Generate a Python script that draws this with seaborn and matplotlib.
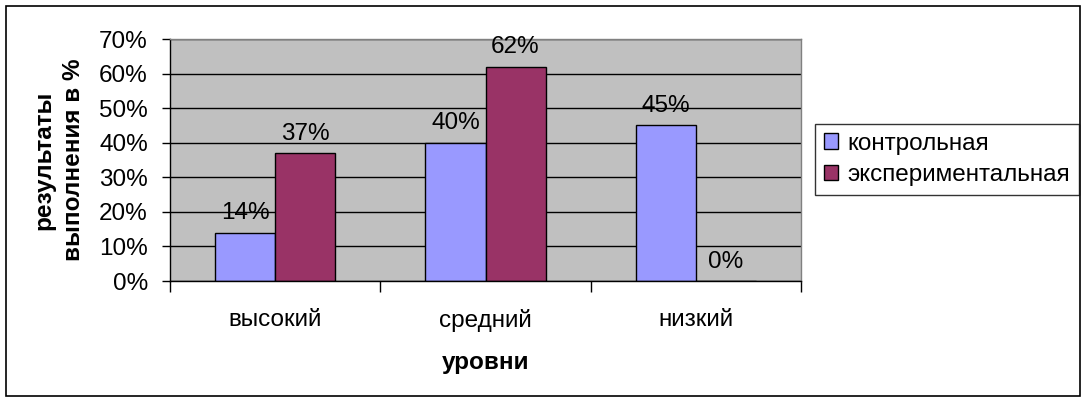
import matplotlib
matplotlib.use("Agg")
import matplotlib.pyplot as plt
import seaborn as sns
import pandas as pd
from matplotlib.patches import Rectangle
from matplotlib.ticker import PercentFormatter, FixedLocator

categories = ["высокий", "средний", "низкий"]
series_names = ["контрольная", "экспериментальная"]
control = [14, 40, 45]
experimental = [37, 62, 0]
colors = ["#9999FF", "#993366"]

df = pd.DataFrame({
    "уровень": categories * 2,
    "группа": [series_names[0]] * 3 + [series_names[1]] * 3,
    "значение": control + experimental,
})

sns.set_style("white")
plt.rcParams["font.family"] = ["Liberation Sans", "DejaVu Sans"]
plt.rcParams.update({"text.color": "black", "axes.labelcolor": "black",
                     "xtick.color": "black", "ytick.color": "black"})

FS = 17.5

fig = plt.figure(figsize=(10.89, 4.03), dpi=100)
ax = fig.add_axes([170 / 1089, 1 - 281 / 403, (801 - 170) / 1089, (281 - 39) / 403])

sns.barplot(data=df, x="уровень", y="значение", hue="группа",
            palette=colors, width=0.571, edgecolor="black", linewidth=1,
            ax=ax, saturation=1, legend=True)

ax.set_facecolor("#C0C0C0")
ax.set_ylim(0, 70)
ax.set_xlim(-0.5, 2.5)
ax.set_yticks(range(0, 71, 10))
ax.yaxis.set_major_formatter(PercentFormatter(decimals=0))
ax.grid(axis="y", color="black", linewidth=1)
ax.set_axisbelow(True)
for s in ax.spines.values():
    s.set_color("#808080")
    s.set_linewidth(1)
ax.spines["bottom"].set_color("black")
ax.spines["left"].set_color("black")

ax.tick_params(axis="y", length=6, width=1, color="black", labelsize=FS, pad=10, left=True)
ax.tick_params(axis="x", which="major", length=0, labelsize=FS, pad=20)
ax.xaxis.set_minor_locator(FixedLocator([-0.5, 0.5, 1.5, 2.5]))
ax.tick_params(axis="x", which="minor", length=8, width=1, color="black", bottom=True)

for cont in ax.containers:
    ax.bar_label(cont, labels=[f"{v:.0f}%" for v in cont.datavalues],
                 fontsize=FS, padding=6)

ax.set_xlabel("уровни", fontsize=FS, fontweight="bold", labelpad=14)
ax.set_ylabel("результаты\nвыполнения в %", fontsize=FS, fontweight="bold",
              labelpad=10, linespacing=1.4)

handles, labels = ax.get_legend_handles_labels()
ax.legend_.remove()
leg = fig.legend(handles, labels, loc="upper left",
                 bbox_to_anchor=(815 / 1089, 1 - 124 / 403),
                 frameon=True, fancybox=False, edgecolor="black",
                 fontsize=FS, handlelength=0.6, handleheight=0.6,
                 handletextpad=0.4, labelspacing=0.4, borderpad=0.35,
                 borderaxespad=0)
leg.get_frame().set_linewidth(1)

fig.patches.append(Rectangle((6 / 1089, 1 - 396 / 403), (1080 - 6) / 1089, (396 - 6) / 403,
                             transform=fig.transFigure, fill=False,
                             edgecolor="black", linewidth=1.2))

fig.savefig("out.png", dpi=100)
